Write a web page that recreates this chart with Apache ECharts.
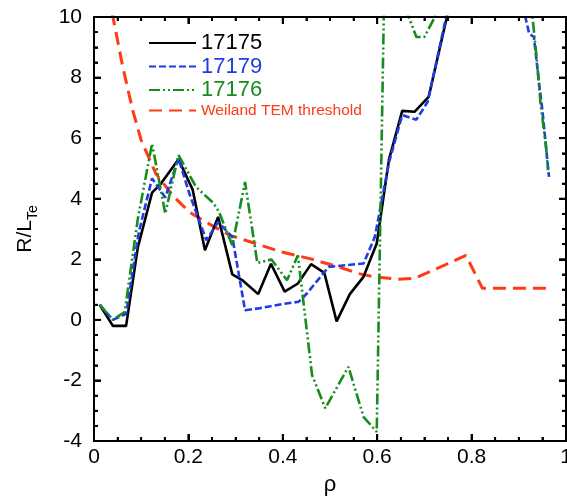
<!DOCTYPE html>
<html>
<head>
<meta charset="utf-8">
<script src="https://cdn.jsdelivr.net/npm/echarts@6/dist/echarts.min.js"></script>
<style>
  html, body { margin: 0; padding: 0; background: #ffffff; }
  #chart { width: 567px; height: 498px; }
</style>
</head>
<body>
<div id="chart"></div>
<script>
// R/L_Te profiles versus normalized radius rho
const rho17175 = [0.012, 0.04, 0.068, 0.093, 0.123, 0.142, 0.179, 0.209, 0.235, 0.263, 0.293, 0.315, 0.348, 0.375, 0.404, 0.432, 0.46, 0.488, 0.514, 0.542, 0.571, 0.599, 0.625, 0.653, 0.679, 0.709, 0.755];
const val17175 = [0.5, -0.2, -0.2, 2.4, 4.2, 4.5, 5.3, 4.3, 2.3, 3.4, 1.5, 1.3, 0.85, 1.85, 0.93, 1.2, 1.84, 1.55, -0.05, 0.85, 1.42, 2.52, 5.3, 6.9, 6.87, 7.36, 10.5];

const rho17179 = [0.012, 0.04, 0.068, 0.095, 0.123, 0.151, 0.179, 0.202, 0.238, 0.263, 0.293, 0.32, 0.349, 0.391, 0.434, 0.451, 0.497, 0.571, 0.595, 0.625, 0.653, 0.683, 0.707, 0.76, 0.905, 0.922, 0.932, 0.943, 0.95, 0.964];
const val17179 = [0.5, 0.0, 0.2, 2.9, 4.67, 4.04, 5.33, 4.17, 2.63, 3.23, 2.74, 0.32, 0.38, 0.5, 0.6, 0.87, 1.75, 1.86, 2.74, 5.2, 6.76, 6.61, 7.2, 11, 10.6, 9.45, 9.34, 7.8, 6.92, 4.72];

const rho17176 = [0.012, 0.04, 0.065, 0.093, 0.123, 0.151, 0.179, 0.216, 0.254, 0.265, 0.293, 0.32, 0.346, 0.376, 0.409, 0.432, 0.462, 0.49, 0.539, 0.571, 0.599, 0.62, 0.64, 0.683, 0.70, 0.722, 0.74, 0.92, 0.939, 0.946, 0.957, 0.962];
const val17176 = [0.5, 0.0, 0.26, 3.35, 5.82, 3.51, 5.44, 4.39, 3.84, 3.56, 2.46, 4.55, 1.88, 1.99, 1.31, 2.13, -1.82, -2.92, -1.55, -3.2, -3.7, 15.6, 11.1, 9.34, 9.34, 10, 11.5, 11.4, 8.46, 7.14, 5.82, 4.94];

const rhoTEM = [0.03, 0.061, 0.082, 0.1, 0.131, 0.167, 0.202, 0.237, 0.286, 0.342, 0.398, 0.455, 0.518, 0.56, 0.595, 0.644, 0.679, 0.722, 0.788, 0.823, 0.962];
const valTEM = [10.8, 8.35, 6.92, 5.93, 4.83, 4.1, 3.56, 3.23, 2.8, 2.52, 2.24, 2.03, 1.75, 1.53, 1.42, 1.34, 1.37, 1.66, 2.13, 1.04, 1.04];

const seriesNames = ['17175', '17179', '17176', 'Weiland TEM threshold'];
const xTicks = [0, 0.2, 0.4, 0.6, 0.8, 1];
const yTicks = [-4, -2, 0, 2, 4, 6, 8, 10];
const minorPerMajor = 4;

const FONT = '"Liberation Sans", Arial, Helvetica, sans-serif';
const pairs = (xs, ys) => xs.map((x, i) => [x, ys[i]]);

const colBlack = '#000000';
const colBlue = '#1f3be6';
const colGreen = '#168c1e';
const colRed = '#ff3a14';

const xMin = xTicks[0], xMax = xTicks[xTicks.length - 1], xStep = xTicks[1] - xTicks[0];
const yMin = yTicks[0], yMax = yTicks[yTicks.length - 1], yStep = yTicks[1] - yTicks[0];

const MAJOR_LEN = 7, MINOR_LEN = 4;
const FRAME_W = 2, MAJOR_W = 2, MINOR_W = 1.8;

function side() {
  return {
    axisLine: { show: true, onZero: false, lineStyle: { color: 'black', width: FRAME_W } },
    axisTick: { show: true, inside: true, length: MAJOR_LEN, lineStyle: { color: 'black', width: MAJOR_W } },
    minorTick: { show: true, splitNumber: minorPerMajor, length: MINOR_LEN, lineStyle: { color: 'black', width: MINOR_W } },
    splitLine: { show: false }
  };
}

const chart = echarts.init(document.getElementById('chart'));

chart.setOption({
  animation: false,
  grid: { left: 94, right: 1, top: 17, bottom: 57, outerBoundsMode: 'none' },
  legend: {
    orient: 'vertical',
    left: 143,
    top: 27,
    itemWidth: 47,
    itemHeight: 12,
    itemGap: 1.5,
    selectedMode: false,
    itemStyle: { opacity: 0 },
    data: [
      { name: seriesNames[0], textStyle: { color: colBlack, fontSize: 22, fontFamily: FONT } },
      { name: seriesNames[1], textStyle: { color: colBlue, fontSize: 22, fontFamily: FONT } },
      { name: seriesNames[2], textStyle: { color: colGreen, fontSize: 22, fontFamily: FONT } },
      { name: seriesNames[3], textStyle: { color: colRed, fontSize: 15.5, fontFamily: FONT } }
    ]
  },
  xAxis: [
    Object.assign({
      type: 'value', position: 'bottom', min: xMin, max: xMax, interval: xStep,
      name: 'ρ', nameLocation: 'middle', nameGap: 33,
      nameTextStyle: { fontSize: 22, color: '#000', fontFamily: FONT },
      axisLabel: { fontSize: 21, color: '#000', margin: 6, fontFamily: FONT }
    }, side()),
    Object.assign({
      type: 'value', position: 'top', min: xMin, max: xMax, interval: xStep,
      axisLabel: { show: false }
    }, side())
  ],
  yAxis: [
    Object.assign({
      type: 'value', position: 'left', min: yMin, max: yMax, interval: yStep,
      name: '{a|R/L}{b|Te}', nameLocation: 'middle', nameGap: 54, nameRotate: 90,
      nameTextStyle: {
        color: '#000', fontFamily: FONT,
        rich: {
          a: { fontSize: 21, lineHeight: 30, color: '#000', fontFamily: FONT },
          b: { fontSize: 14, lineHeight: 14, verticalAlign: 'bottom', color: '#000', fontFamily: FONT }
        }
      },
      axisLabel: { fontSize: 21, color: '#000', margin: 12, fontFamily: FONT }
    }, side()),
    Object.assign({
      type: 'value', position: 'right', min: yMin, max: yMax, interval: yStep,
      axisLabel: { show: false }
    }, side())
  ],
  series: [
    {
      name: seriesNames[3], type: 'line', data: pairs(rhoTEM, valTEM),
      symbol: 'none', color: colRed,
      lineStyle: { color: colRed, width: 3, type: [13, 7] }
    },
    {
      name: seriesNames[0], type: 'line', data: pairs(rho17175, val17175),
      symbol: 'none', color: colBlack,
      lineStyle: { color: colBlack, width: 2.6, type: 'solid' }
    },
    {
      name: seriesNames[1], type: 'line', data: pairs(rho17179, val17179),
      symbol: 'none', color: colBlue,
      lineStyle: { color: colBlue, width: 2.6, type: [7, 3] }
    },
    {
      name: seriesNames[2], type: 'line', data: pairs(rho17176, val17176),
      symbol: 'none', color: colGreen,
      lineStyle: { color: colGreen, width: 2.6, type: [11, 3, 2, 3, 2, 3] }
    }
  ]
});

// Plot box with inward ticks on all four sides, placed through the axis scales.
(function drawBox() {
  const finder = { xAxisIndex: 0, yAxisIndex: 0 };
  const toPx = (x, y) => chart.convertToPixel(finder, [x, y]);
  const bl = toPx(xMin, yMin);
  const tr = toPx(xMax, yMax);
  const left = bl[0], bottom = bl[1], right = tr[0], top = tr[1];
  const els = [];
  const stroke = (w) => ({ stroke: '#000', lineWidth: w, fill: null });

  els.push({
    type: 'rect', silent: true, z: 100,
    shape: { x: left, y: top, width: right - left, height: bottom - top },
    style: { stroke: '#000', lineWidth: FRAME_W, fill: 'rgba(0,0,0,0)' }
  });

  const nx = Math.round((xMax - xMin) / xStep) * minorPerMajor;
  for (let i = 0; i <= nx; i++) {
    const v = xMin + i * xStep / minorPerMajor;
    const px = toPx(v, yMin)[0];
    const major = i % minorPerMajor === 0;
    const len = major ? MAJOR_LEN : MINOR_LEN;
    const w = major ? MAJOR_W : MINOR_W;
    els.push({ type: 'line', silent: true, z: 100, shape: { x1: px, y1: bottom, x2: px, y2: bottom - len }, style: stroke(w) });
    els.push({ type: 'line', silent: true, z: 100, shape: { x1: px, y1: top, x2: px, y2: top + len }, style: stroke(w) });
  }
  const ny = Math.round((yMax - yMin) / yStep) * minorPerMajor;
  for (let i = 0; i <= ny; i++) {
    const v = yMin + i * yStep / minorPerMajor;
    const py = toPx(xMin, v)[1];
    const major = i % minorPerMajor === 0;
    const len = major ? MAJOR_LEN : MINOR_LEN;
    const w = major ? MAJOR_W : MINOR_W;
    els.push({ type: 'line', silent: true, z: 100, shape: { x1: left, y1: py, x2: left + len, y2: py }, style: stroke(w) });
    els.push({ type: 'line', silent: true, z: 100, shape: { x1: right, y1: py, x2: right - len, y2: py }, style: stroke(w) });
  }
  chart.setOption({ graphic: { elements: els } });
})();
</script>
</body>
</html>
